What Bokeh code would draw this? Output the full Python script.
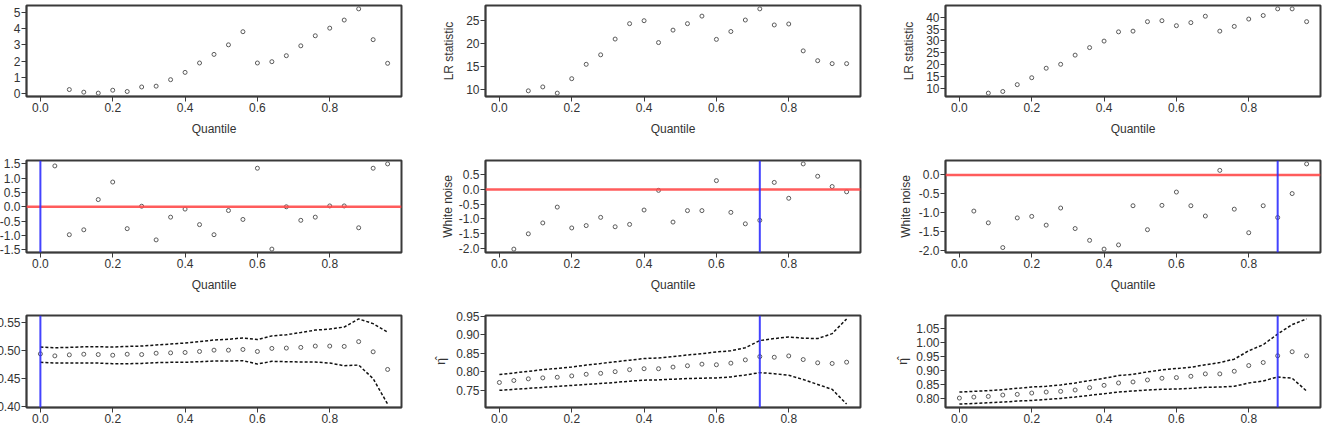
from bokeh.plotting import figure
from bokeh.layouts import column, row
from bokeh.models import Range1d, DataRange1d, Span, FixedTicker, NumeralTickFormatter, ColumnDataSource
from bokeh.embed import file_html
from bokeh.resources import INLINE

nan = float("nan")

quantile = [0.00, 0.04, 0.08, 0.12, 0.16, 0.20, 0.24, 0.28, 0.32, 0.36, 0.40, 0.44,
            0.48, 0.52, 0.56, 0.60, 0.64, 0.68, 0.72, 0.76, 0.80, 0.84, 0.88, 0.92, 0.96]
x_ticks = [0.0, 0.2, 0.4, 0.6, 0.8]

# --- LR statistics (top row) ---
lr_a = [nan, nan, 0.24, 0.08, 0.02, 0.20, 0.12, 0.40, 0.45, 0.85, 1.30, 1.88, 2.41,
        3.00, 3.81, 1.88, 1.96, 2.33, 2.94, 3.56, 4.03, 4.53, 5.22, 3.32, 1.86]
lr_b = [nan, nan, 9.79, 10.64, 9.29, 12.42, 15.54, 17.60, 21.02, 24.36, 25.00, 20.26,
        22.96, 24.36, 26.00, 20.95, 22.66, 25.15, 27.57, 24.08, 24.29, 18.46, 16.33, 15.69, 15.69]
lr_c = [nan, nan, 7.93, 8.62, 11.52, 14.43, 18.44, 20.10, 23.97, 27.15, 29.90, 33.80,
        34.10, 38.10, 38.50, 36.40, 37.70, 40.40, 34.10, 36.10, 39.20, 40.70, 43.50, 43.50, 38.10]

# --- White noise statistics (middle row) ---
wn_a = [nan, 1.42, -0.97, -0.80, 0.25, 0.86, -0.76, 0.02, -1.15, -0.36, -0.08, -0.62,
        -0.97, -0.13, -0.44, 1.34, -1.47, 0.00, -0.47, -0.36, 0.03, 0.03, -0.73, 1.34, 1.49]
wn_b = [nan, -2.03, -1.51, -1.14, -0.60, -1.31, -1.23, -0.95, -1.27, -1.19, -0.70, -0.03,
        -1.11, -0.72, -0.72, 0.30, -0.78, -1.17, -1.05, 0.24, -0.30, 0.87, 0.45, 0.10, -0.08]
wn_c = [nan, -0.95, -1.26, -1.91, -1.13, -1.09, -1.32, -0.87, -1.41, -1.72, -1.95, -1.84,
        -0.81, -1.44, -0.80, -0.45, -0.81, -1.08, 0.12, -0.90, -1.52, -0.81, -1.12, -0.49, 0.29]

# --- eta estimates with confidence bands (bottom row) ---
eta_a = [0.4945, 0.4909, 0.4927, 0.4939, 0.4933, 0.4921, 0.4939, 0.4933, 0.4957, 0.4963,
         0.4970, 0.4988, 0.5012, 0.5012, 0.5024, 0.4988, 0.5043, 0.5049, 0.5061, 0.5085,
         0.5085, 0.5079, 0.5165, 0.4982, 0.4665]
eta_a_hi = [0.5067, 0.5055, 0.5061, 0.5073, 0.5073, 0.5067, 0.5079, 0.5085, 0.5104, 0.5122,
            0.5140, 0.5165, 0.5195, 0.5207, 0.5232, 0.5201, 0.5268, 0.5287, 0.5329, 0.5372,
            0.5390, 0.5427, 0.5573, 0.5488, 0.5335]
eta_a_lo = [0.4793, 0.4780, 0.4780, 0.4780, 0.4780, 0.4768, 0.4768, 0.4774, 0.4787, 0.4793,
            0.4793, 0.4805, 0.4817, 0.4817, 0.4823, 0.4762, 0.4811, 0.4805, 0.4799, 0.4799,
            0.4780, 0.4732, 0.4744, 0.4500, 0.4043]

eta_b = [0.7705, 0.7759, 0.7804, 0.7830, 0.7848, 0.7884, 0.7929, 0.7955, 0.8000, 0.8054,
         0.8080, 0.8080, 0.8125, 0.8161, 0.8205, 0.8188, 0.8232, 0.8321, 0.8411, 0.8393,
         0.8429, 0.8330, 0.8241, 0.8223, 0.8259]
eta_b_hi = [0.7920, 0.7964, 0.8009, 0.8054, 0.8089, 0.8125, 0.8179, 0.8223, 0.8268, 0.8313,
            0.8357, 0.8375, 0.8411, 0.8455, 0.8491, 0.8536, 0.8571, 0.8652, 0.8848, 0.8902,
            0.8946, 0.8911, 0.8902, 0.9036, 0.9438]
eta_b_lo = [0.7491, 0.7518, 0.7545, 0.7571, 0.7598, 0.7625, 0.7652, 0.7679, 0.7705, 0.7741,
            0.7768, 0.7777, 0.7795, 0.7813, 0.7821, 0.7830, 0.7857, 0.7911, 0.7973, 0.7946,
            0.7902, 0.7786, 0.7652, 0.7518, 0.7116]

eta_c = [0.8000, 0.8036, 0.8060, 0.8109, 0.8133, 0.8181, 0.8217, 0.8242, 0.8290, 0.8374,
         0.8459, 0.8543, 0.8580, 0.8652, 0.8713, 0.8737, 0.8785, 0.8870, 0.8870, 0.8966,
         0.9171, 0.9280, 0.9522, 0.9667, 0.9522]
eta_c_hi = [0.8217, 0.8242, 0.8266, 0.8302, 0.8350, 0.8399, 0.8423, 0.8471, 0.8543, 0.8628,
            0.8713, 0.8809, 0.8857, 0.8942, 0.9014, 0.9063, 0.9111, 0.9196, 0.9280, 0.9401,
            0.9703, 0.9920, 1.0307, 1.0645, 1.0850]
eta_c_lo = [0.7783, 0.7807, 0.7831, 0.7855, 0.7891, 0.7915, 0.7952, 0.7988, 0.8036, 0.8097,
            0.8157, 0.8217, 0.8254, 0.8290, 0.8314, 0.8326, 0.8350, 0.8386, 0.8399, 0.8423,
            0.8543, 0.8616, 0.8761, 0.8713, 0.8254]

# selected quantile per column (vertical marker)
chosen_q = [0.00, 0.72, 0.88]

# y tick values per panel
yt_lr = [[0, 1, 2, 3, 4, 5], [10, 15, 20, 25], [10, 15, 20, 25, 30, 35, 40]]
yt_wn = [[-1.5, -1.0, -0.5, 0.0, 0.5, 1.0, 1.5], [-2.0, -1.5, -1.0, -0.5, 0.0, 0.5],
         [-2.0, -1.5, -1.0, -0.5, 0.0]]
yt_eta = [[0.40, 0.45, 0.50, 0.55], [0.75, 0.80, 0.85, 0.90, 0.95],
          [0.80, 0.85, 0.90, 0.95, 1.00, 1.05]]

FONT = "Liberation Sans"
TXT = "#333333"
INK = "#3a3a3a"

COL_W = [442, 442, 443]
FRAME_LEFT = [26, 43, 61]
FRAME_W = 375
ROW_TOP = [5, 16, 27]
FRAME_H = [91, 92, 92]
ROW_H = 144
LEAD = 40       # spare left border, pulled back with a negative margin
EXTRA = 24      # bottom overflow for rows that carry an x label


def panel(c, r, y, yticks, yfmt, ylabel=None, lo=None, hi=None, hline=False, vline=None,
          ylab_standoff=8):
    extra = EXTRA if r < 2 else 0
    left = FRAME_LEFT[c] + LEAD
    right = COL_W[c] - FRAME_LEFT[c] - FRAME_W
    bottom = ROW_H - ROW_TOP[r] - FRAME_H[r] + extra
    span = quantile[-1] - quantile[0]
    p = figure(width=COL_W[c] + LEAD, height=ROW_H + extra,
               x_range=Range1d(quantile[0] - 0.04 * span, quantile[-1] + 0.04 * span),
               y_range=DataRange1d(range_padding=0.08),
               output_backend="svg", toolbar_location=None,
               min_border_left=left, min_border_right=right,
               min_border_top=ROW_TOP[r], min_border_bottom=bottom,
               margin=(0, 0, -extra, -LEAD))
    p.border_fill_color = None
    p.background_fill_color = "white"
    p.outline_line_color = INK
    p.outline_line_width = 2
    p.grid.visible = False

    src = ColumnDataSource(dict(q=quantile, y=y))
    if lo is not None:
        band = ColumnDataSource(dict(q=quantile, lo=lo, hi=hi))
        p.line("q", "hi", source=band, line_color="#111111", line_width=1.5, line_dash="3 2")
        p.line("q", "lo", source=band, line_color="#111111", line_width=1.5, line_dash="3 2")
    p.scatter("q", "y", source=src, marker="circle", size=4, fill_color=None,
              line_color="#5a5a5a", line_width=1)
    if hline:
        p.add_layout(Span(location=0, dimension="width", line_color="#ff4a4a",
                          line_width=2.5, line_alpha=0.9))
    if vline is not None:
        p.add_layout(Span(location=vline, dimension="height", line_color="#2f2fff",
                          line_width=2, line_alpha=0.9))

    for ax in (p.xaxis[0], p.yaxis[0]):
        ax.major_label_text_font = FONT
        ax.major_label_text_font_size = "12px"
        ax.major_label_text_color = TXT
        ax.axis_label_text_font = FONT
        ax.axis_label_text_font_size = "12px"
        ax.axis_label_text_font_style = "normal"
        ax.axis_label_text_color = TXT
        ax.major_tick_in = 0
        ax.major_tick_out = 5
        ax.minor_tick_out = 0
        ax.minor_tick_in = 0
        ax.axis_line_color = INK
        ax.axis_line_width = 1.5
        ax.major_tick_line_color = INK

    p.xaxis.ticker = FixedTicker(ticks=x_ticks)
    p.xaxis.formatter = NumeralTickFormatter(format="0.0")
    p.xaxis.major_label_standoff = 1
    if r < 2:
        p.xaxis.axis_label = "Quantile"
        p.xaxis.axis_label_standoff = 7

    p.yaxis.ticker = FixedTicker(ticks=yticks)
    p.yaxis.formatter = NumeralTickFormatter(format=yfmt)
    p.yaxis.major_label_standoff = 1
    if ylabel:
        p.yaxis.axis_label = ylabel
        p.yaxis.axis_label_standoff = ylab_standoff
    return p


lr = [lr_a, lr_b, lr_c]
wn = [wn_a, wn_b, wn_c]
eta = [(eta_a, eta_a_lo, eta_a_hi), (eta_b, eta_b_lo, eta_b_hi), (eta_c, eta_c_lo, eta_c_hi)]

top = [panel(c, 0, lr[c], yt_lr[c], "0", ylabel=None if c == 0 else "LR statistic",
             ylab_standoff=7) for c in range(3)]
mid = [panel(c, 1, wn[c], yt_wn[c], "0.0", ylabel=None if c == 0 else "White noise",
             hline=True, vline=chosen_q[c], ylab_standoff=[0, 1, 3][c]) for c in range(3)]
bot = [panel(c, 2, eta[c][0], yt_eta[c], "0.00", ylabel=None if c == 0 else "\u03b7\u0302",
             lo=eta[c][1], hi=eta[c][2], vline=chosen_q[c],
             ylab_standoff=[0, 5, 3][c]) for c in range(3)]

layout = column(row(*top), row(*mid), row(*bot))
open("out.html", "w").write(file_html(layout, INLINE))
